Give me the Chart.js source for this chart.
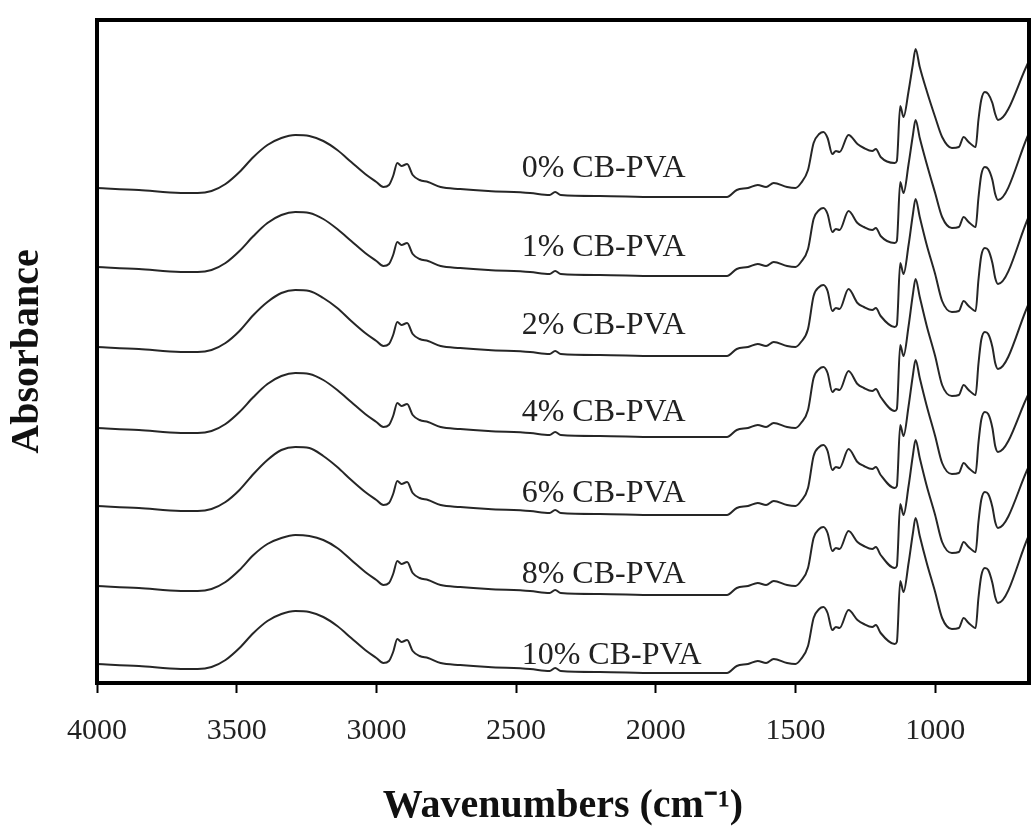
<!DOCTYPE html>
<html>
<head>
<meta charset="utf-8">
<script src="https://cdn.jsdelivr.net/npm/chart.js@4.4.1/dist/chart.umd.min.js"></script>
<style>
  html, body { margin: 0; padding: 0; background: #fff; }
  canvas { display: block; }
</style>
</head>
<body>
<canvas id="ftir" width="1031" height="833"></canvas>
<script>
// wavenumbers (cm-1), shared by every spectrum
const wavenumbers = [
  4000, 3850, 3700, 3640, 3590, 3540, 3490, 3440, 3390, 3340,
  3290, 3240, 3190, 3140, 3090, 3040, 3000, 2975, 2955, 2940,
  2925, 2910, 2890, 2870, 2845, 2815, 2770, 2700, 2600, 2450,
  2380, 2360, 2340, 2200, 2000, 1800, 1745, 1710, 1670, 1635,
  1605, 1578, 1530, 1500, 1480, 1455, 1435, 1415, 1400, 1385,
  1368, 1355, 1342, 1310, 1278, 1255, 1225, 1212, 1195, 1145,
  1137, 1125, 1113, 1095, 1080, 1070, 1055, 1030, 1000, 975,
  940, 915, 898, 880, 855, 845, 835, 822, 810, 795,
  785, 775, 664
]

// absorbance (a.u., stacked as in the figure)
const cb0 = [
  4.95, 4.93, 4.90, 4.90, 4.92, 4.99, 5.11, 5.26, 5.38, 5.45,
  5.48, 5.47, 5.42, 5.33, 5.21, 5.09, 5.01, 4.96, 4.98, 5.07,
  5.20, 5.17, 5.19, 5.08, 5.03, 5.01, 4.96, 4.94, 4.92, 4.90,
  4.88, 4.91, 4.88, 4.87, 4.86, 4.86, 4.86, 4.93, 4.95, 4.98,
  4.96, 5.00, 4.96, 4.95, 5.00, 5.13, 5.40, 5.49, 5.51, 5.45,
  5.29, 5.32, 5.31, 5.48, 5.39, 5.35, 5.32, 5.34, 5.26, 5.20,
  5.22, 5.77, 5.66, 5.92, 6.18, 6.34, 6.16, 5.92, 5.66, 5.46,
  5.35, 5.36, 5.46, 5.41, 5.36, 5.63, 5.83, 5.91, 5.89, 5.80,
  5.69, 5.63, 6.22
]
const cb1 = [
  4.16, 4.14, 4.11, 4.11, 4.13, 4.20, 4.32, 4.47, 4.60, 4.68,
  4.71, 4.70, 4.64, 4.54, 4.42, 4.30, 4.22, 4.17, 4.19, 4.28,
  4.41, 4.38, 4.40, 4.29, 4.24, 4.22, 4.17, 4.15, 4.13, 4.11,
  4.09, 4.12, 4.09, 4.08, 4.07, 4.07, 4.07, 4.14, 4.16, 4.19,
  4.17, 4.21, 4.17, 4.16, 4.21, 4.34, 4.64, 4.73, 4.75, 4.69,
  4.51, 4.54, 4.53, 4.72, 4.60, 4.56, 4.53, 4.55, 4.47, 4.40,
  4.42, 5.01, 4.90, 5.19, 5.47, 5.63, 5.45, 5.19, 4.90, 4.66,
  4.55, 4.56, 4.66, 4.61, 4.56, 4.85, 5.08, 5.16, 5.14, 5.03,
  4.89, 4.83, 5.50
]
const cb2 = [
  3.36, 3.34, 3.31, 3.31, 3.33, 3.40, 3.52, 3.68, 3.81, 3.90,
  3.93, 3.92, 3.85, 3.75, 3.62, 3.50, 3.42, 3.37, 3.39, 3.48,
  3.61, 3.58, 3.60, 3.49, 3.44, 3.42, 3.37, 3.35, 3.33, 3.31,
  3.29, 3.32, 3.29, 3.28, 3.27, 3.27, 3.27, 3.34, 3.36, 3.39,
  3.37, 3.41, 3.37, 3.36, 3.41, 3.54, 3.87, 3.96, 3.98, 3.92,
  3.72, 3.75, 3.74, 3.94, 3.80, 3.76, 3.73, 3.75, 3.67, 3.56,
  3.58, 4.20, 4.09, 4.38, 4.68, 4.84, 4.66, 4.38, 4.09, 3.82,
  3.71, 3.72, 3.82, 3.77, 3.72, 4.03, 4.27, 4.35, 4.33, 4.20,
  4.05, 3.99, 4.67
]
const cb4 = [
  2.55, 2.53, 2.50, 2.50, 2.52, 2.59, 2.71, 2.86, 2.99, 3.07,
  3.10, 3.09, 3.03, 2.93, 2.81, 2.69, 2.61, 2.56, 2.58, 2.67,
  2.80, 2.77, 2.79, 2.68, 2.63, 2.61, 2.56, 2.54, 2.52, 2.50,
  2.48, 2.51, 2.48, 2.47, 2.46, 2.46, 2.46, 2.53, 2.55, 2.58,
  2.56, 2.60, 2.56, 2.55, 2.60, 2.73, 3.05, 3.14, 3.16, 3.10,
  2.91, 2.94, 2.93, 3.12, 2.99, 2.95, 2.92, 2.94, 2.86, 2.72,
  2.74, 3.38, 3.27, 3.57, 3.88, 4.04, 3.86, 3.57, 3.27, 2.98,
  2.87, 2.88, 2.98, 2.93, 2.88, 3.19, 3.43, 3.51, 3.49, 3.36,
  3.20, 3.14, 3.80
]
const cb6 = [
  1.77, 1.75, 1.72, 1.72, 1.74, 1.81, 1.93, 2.09, 2.23, 2.33,
  2.36, 2.35, 2.27, 2.16, 2.03, 1.91, 1.83, 1.78, 1.80, 1.89,
  2.02, 1.99, 2.01, 1.90, 1.85, 1.83, 1.78, 1.76, 1.74, 1.72,
  1.70, 1.73, 1.70, 1.69, 1.68, 1.68, 1.68, 1.75, 1.77, 1.80,
  1.78, 1.82, 1.78, 1.77, 1.82, 1.95, 2.27, 2.36, 2.38, 2.32,
  2.13, 2.16, 2.15, 2.34, 2.21, 2.17, 2.14, 2.16, 2.08, 1.95,
  1.97, 2.58, 2.47, 2.77, 3.07, 3.23, 3.05, 2.77, 2.47, 2.20,
  2.09, 2.10, 2.20, 2.15, 2.10, 2.40, 2.63, 2.71, 2.69, 2.55,
  2.37, 2.31, 2.90
]
const cb8 = [
  0.97, 0.95, 0.92, 0.92, 0.94, 1.01, 1.13, 1.28, 1.39, 1.45,
  1.48, 1.47, 1.43, 1.35, 1.23, 1.11, 1.03, 0.98, 1.00, 1.09,
  1.22, 1.19, 1.21, 1.10, 1.05, 1.03, 0.98, 0.96, 0.94, 0.92,
  0.90, 0.93, 0.90, 0.89, 0.88, 0.88, 0.88, 0.95, 0.97, 1.00,
  0.98, 1.02, 0.98, 0.97, 1.02, 1.15, 1.45, 1.54, 1.56, 1.50,
  1.32, 1.35, 1.34, 1.52, 1.41, 1.37, 1.34, 1.36, 1.28, 1.15,
  1.17, 1.79, 1.68, 1.97, 2.27, 2.43, 2.25, 1.97, 1.68, 1.41,
  1.30, 1.31, 1.41, 1.36, 1.31, 1.61, 1.83, 1.91, 1.89, 1.76,
  1.61, 1.55, 2.17
]
const cb10 = [
  0.19, 0.17, 0.14, 0.14, 0.16, 0.23, 0.35, 0.50, 0.62, 0.69,
  0.72, 0.71, 0.66, 0.57, 0.45, 0.33, 0.25, 0.20, 0.22, 0.31,
  0.44, 0.41, 0.43, 0.32, 0.27, 0.25, 0.20, 0.18, 0.16, 0.14,
  0.12, 0.15, 0.12, 0.11, 0.10, 0.10, 0.10, 0.17, 0.19, 0.22,
  0.20, 0.24, 0.20, 0.19, 0.24, 0.37, 0.65, 0.74, 0.76, 0.70,
  0.53, 0.56, 0.55, 0.73, 0.63, 0.59, 0.56, 0.58, 0.50, 0.39,
  0.41, 1.02, 0.91, 1.20, 1.49, 1.65, 1.47, 1.20, 0.91, 0.65,
  0.54, 0.55, 0.65, 0.60, 0.55, 0.85, 1.07, 1.15, 1.13, 1.00,
  0.86, 0.80, 1.48
]

const seriesNames = ['0% CB-PVA', '1% CB-PVA', '2% CB-PVA', '4% CB-PVA', '6% CB-PVA', '8% CB-PVA', '10% CB-PVA']
const seriesValues = [cb0, cb1, cb2, cb4, cb6, cb8, cb10]

// where each curve name sits (wavenumber of its left edge, absorbance of its baseline)
const labelWavenumber = 2480
const labelLevels = [5.06, 4.27, 3.49, 2.62, 1.81, 1.00, 0.19]

const xTicks = [4000, 3500, 3000, 2500, 2000, 1500, 1000]

const SERIF = "'Liberation Serif', 'Times New Roman', serif"
const INK = '#222'

// box around the plot area
const frame = {
  id: 'frame',
  afterDraw(chart) {
    const { ctx, chartArea: a } = chart
    ctx.save()
    ctx.strokeStyle = '#000'
    ctx.lineWidth = 4
    ctx.strokeRect(a.left, a.top, a.right - a.left, a.bottom - a.top)
    ctx.restore()
  }
}

// names written next to each spectrum
const curveLabels = {
  id: 'curveLabels',
  afterDatasetsDraw(chart) {
    const { ctx, scales: { x, y } } = chart
    ctx.save()
    ctx.font = '32px ' + SERIF
    ctx.fillStyle = INK
    ctx.textAlign = 'left'
    ctx.textBaseline = 'alphabetic'
    chart.data.datasets.forEach((ds, i) => {
      ctx.fillText(ds.label, x.getPixelForValue(labelWavenumber), y.getPixelForValue(labelLevels[i]))
    })
    ctx.restore()
  }
}

new Chart(document.getElementById('ftir'), {
  type: 'line',
  data: {
    datasets: seriesNames.map((name, i) => ({
      label: name,
      data: wavenumbers.map((w, j) => ({ x: w, y: seriesValues[i][j] })),
      borderColor: '#262626',
      borderWidth: 2,
      pointRadius: 0,
      cubicInterpolationMode: 'monotone',
      fill: false
    }))
  },
  options: {
    responsive: false,
    animation: false,
    devicePixelRatio: 1,
    layout: { padding: { top: 20, right: 2, left: 0, bottom: 0 } },
    plugins: {
      legend: { display: false },
      tooltip: { enabled: false }
    },
    scales: {
      x: {
        type: 'linear',
        reverse: true,
        min: 664,
        max: 4000,
        afterBuildTicks: (scale) => { scale.ticks = xTicks.map(v => ({ value: v })) },
        afterFit: (scale) => { scale.height = 150 },
        grid: { drawOnChartArea: false, tickLength: 10, tickWidth: 2, tickColor: '#000' },
        border: { display: true, width: 4, color: '#000' },
        ticks: {
          padding: 20,
          color: INK,
          maxRotation: 0,
          callback: (v) => String(v),
          font: { family: SERIF, size: 30 }
        },
        title: {
          display: true,
          text: 'Wavenumbers (cm⁻¹)',
          color: '#111',
          padding: { top: 0, bottom: 2 },
          font: { family: SERIF, size: 40, weight: 'bold' }
        }
      },
      y: {
        min: 0,
        max: 6.63,
        afterFit: (scale) => { scale.width = 97 },
        grid: { display: false, drawTicks: false },
        border: { display: true, width: 4, color: '#000' },
        ticks: { display: false },
        title: {
          display: true,
          text: 'Absorbance',
          color: '#111',
          padding: { top: 4, bottom: 4 },
          font: { family: SERIF, size: 40, weight: 'bold' }
        }
      }
    }
  },
  plugins: [frame, curveLabels]
})
</script>
</body>
</html>
